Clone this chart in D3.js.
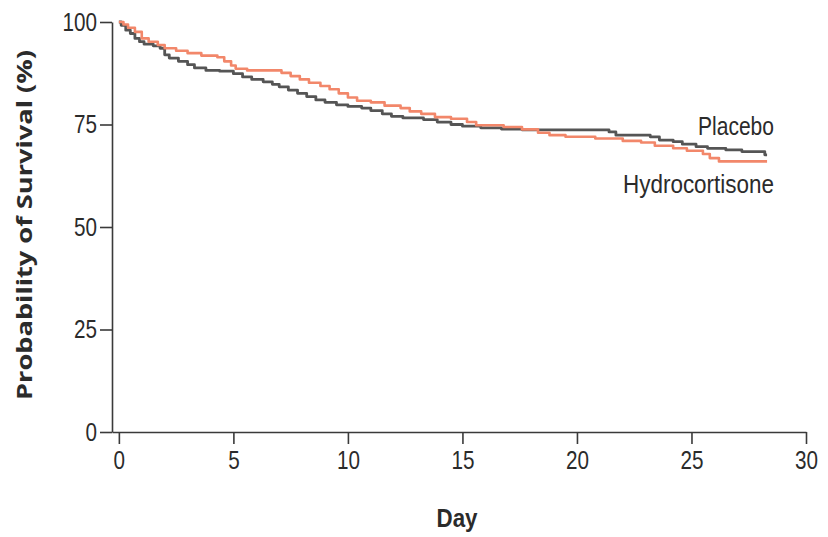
<!DOCTYPE html>
<html>
<head>
<meta charset="utf-8">
<script src="https://cdn.jsdelivr.net/npm/d3@7"></script>
<style>
  html, body { margin: 0; padding: 0; background: #fff; }
  svg { display: block; }
</style>
</head>
<body>
<svg id="chart" width="828" height="537"></svg>
<script>
// ---- Data (Kaplan-Meier step curves) ----
const placeboDays = [0, 0.1, 0.3, 0.5, 0.7, 0.9, 1.1, 1.5, 1.8, 2.0, 2.2, 2.6, 3.0, 3.3, 3.8, 4.4,
  5.0, 5.4, 5.8, 6.3, 6.7, 7.0, 7.4, 7.8, 8.2, 8.6, 9.0, 9.5, 10.0, 10.6, 11.0, 11.5, 11.9,
  12.4, 13.3, 13.9, 14.5, 15.0, 15.8, 16.7, 17.6, 21.4, 21.7, 23.2, 23.6, 24.2, 24.6, 25.2,
  25.7, 26.5, 27.2, 28.2, 28.3];
const placeboSurv = [100, 99.2, 98.0, 97.2, 96.0, 95.2, 94.6, 94.2, 93.6, 92.0, 91.2, 90.4, 89.6, 88.8, 88.2, 88.0,
  87.4, 86.6, 86.0, 85.4, 84.8, 84.2, 83.4, 82.6, 81.8, 81.0, 80.4, 79.8, 79.4, 79.0, 78.4, 77.6, 77.0,
  76.6, 76.2, 75.6, 75.0, 74.6, 74.2, 73.9, 73.7, 73.2, 72.4, 72.0, 71.2, 70.8, 70.2, 69.6,
  69.2, 68.8, 68.4, 67.6, 67.6];

const hydroDays = [0, 0.2, 0.4, 0.7, 1.0, 1.3, 1.7, 2.0, 2.5, 3.0, 3.6, 4.3, 4.6, 4.9, 5.1, 5.6,
  7.1, 7.5, 7.9, 8.3, 8.8, 9.2, 9.6, 10.0, 10.4, 11.0, 11.6, 12.3, 12.7, 13.2, 13.8, 14.5,
  15.2, 15.6, 16.8, 17.6, 18.3, 18.8, 19.5, 20.8, 22.0, 22.8, 23.4, 24.2, 24.8, 25.5, 25.8,
  26.2, 28.3];
const hydroSurv = [100, 99.4, 98.6, 97.6, 96.0, 95.2, 94.4, 93.6, 93.0, 92.4, 91.8, 91.4, 90.4, 89.4, 88.6, 88.2,
  87.6, 86.8, 86.0, 85.2, 84.4, 83.6, 82.6, 81.6, 80.8, 80.4, 79.6, 79.0, 78.2, 77.6, 76.8, 76.4,
  75.6, 74.8, 74.4, 73.8, 73.0, 72.4, 72.0, 71.6, 71.0, 70.6, 69.8, 69.2, 68.6, 67.8, 66.8,
  66.0, 66.0];

const xTicks = [0, 5, 10, 15, 20, 25, 30];
const yTicks = [0, 25, 50, 75, 100];
const seriesNames = ["Placebo", "Hydrocortisone"];
const xTitle = "Day";
const yTitle = "Probability of Survival (%)";

// ---- Layout ----
const svg = d3.select("#chart");
const x = d3.scaleLinear().domain([-0.3, 30]).range([112, 806]);
const y = d3.scaleLinear().domain([0, 100]).range([432, 22]);

const tickFont = "'Liberation Sans Narrow', 'Arial Narrow', 'Liberation Sans', sans-serif";
const axisColor = "#3a3a3a";
const textColor = "#2b2b2b";

// X axis
const gx = svg.append("g").attr("transform", "translate(0,432)")
  .call(d3.axisBottom(x).tickValues(xTicks).tickSize(12).tickPadding(7).tickSizeOuter(0));
// Y axis
const gy = svg.append("g").attr("transform", "translate(112,0)")
  .call(d3.axisLeft(y).tickValues(yTicks).tickSize(12).tickPadding(3).tickSizeOuter(0));

[gx, gy].forEach(g => {
  g.select(".domain").attr("stroke", axisColor).attr("stroke-width", 1.6);
  g.selectAll(".tick line").attr("stroke", axisColor).attr("stroke-width", 1.6);
  g.selectAll(".tick text").attr("fill", textColor)
    .style("font-family", tickFont).style("font-size", "25px")
    .attr("textLength", function() { return 11.5 * this.textContent.length; })
    .attr("lengthAdjust", "spacingAndGlyphs");
});

// Curves
const line = d3.line().x(d => x(d[0])).y(d => y(d[1])).curve(d3.curveStepAfter);
const placebo = placeboDays.map((d, i) => [d, placeboSurv[i]]);
const hydro = hydroDays.map((d, i) => [d, hydroSurv[i]]);

svg.append("path").datum(placebo).attr("d", line)
  .attr("fill", "none").attr("stroke", "#555555").attr("stroke-width", 2.8)
  .attr("stroke-linejoin", "round");
svg.append("path").datum(hydro).attr("d", line)
  .attr("fill", "none").attr("stroke", "#f2876a").attr("stroke-width", 2.6)
  .attr("stroke-linejoin", "round");

// Series labels
svg.append("text").text(seriesNames[0])
  .attr("x", 774).attr("y", 135).attr("text-anchor", "end")
  .attr("textLength", 76).attr("lengthAdjust", "spacingAndGlyphs")
  .attr("fill", textColor).style("font-family", tickFont).style("font-size", "25px");
svg.append("text").text(seriesNames[1])
  .attr("x", 774).attr("y", 193).attr("text-anchor", "end")
  .attr("textLength", 151).attr("lengthAdjust", "spacingAndGlyphs")
  .attr("fill", textColor).style("font-family", tickFont).style("font-size", "26px");

// Axis titles
svg.append("text").text(xTitle)
  .attr("x", 457).attr("y", 527).attr("text-anchor", "middle")
  .attr("textLength", 41).attr("lengthAdjust", "spacingAndGlyphs")
  .attr("fill", textColor).style("font-family", tickFont)
  .style("font-size", "26px").style("font-weight", "bold");

svg.append("text").text(yTitle)
  .attr("transform", "translate(32,225) rotate(-90)")
  .attr("text-anchor", "middle")
  .attr("textLength", 350).attr("lengthAdjust", "spacingAndGlyphs")
  .attr("fill", textColor).style("font-family", "'Open Sans', 'Liberation Sans', sans-serif")
  .style("font-size", "22px").style("font-weight", "bold");
</script>
</body>
</html>
